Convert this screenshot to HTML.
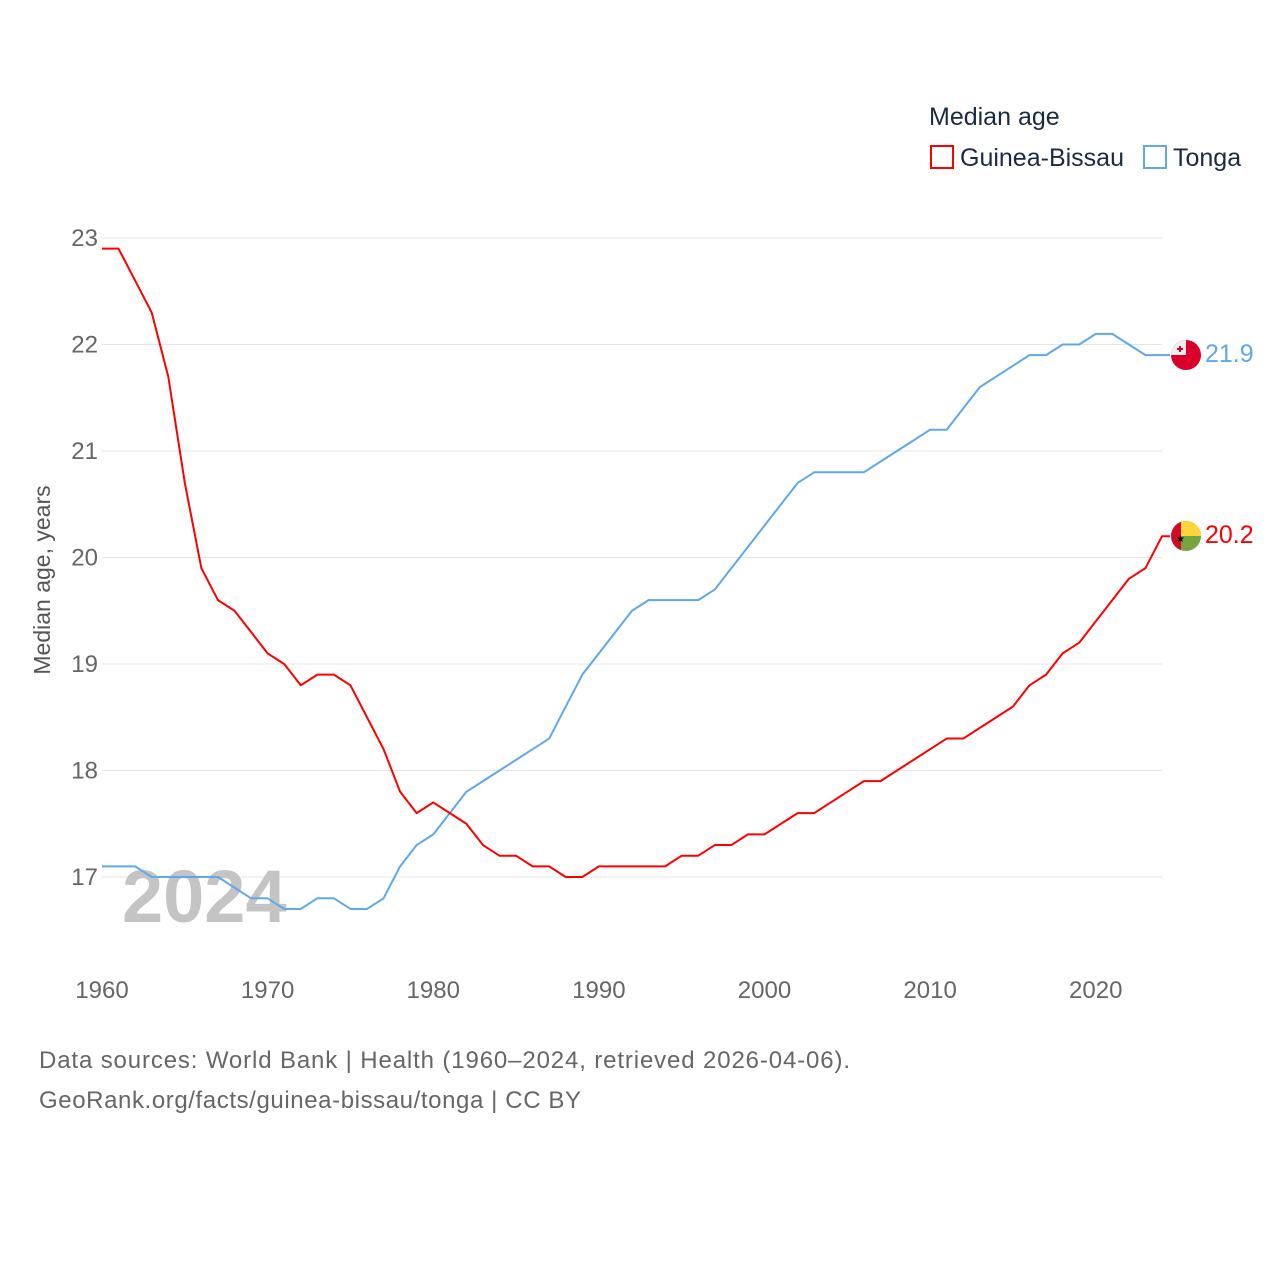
<!DOCTYPE html>
<html><head><meta charset="utf-8"><style>
body{margin:0;background:#fff;font-family:"Liberation Sans",sans-serif;}
svg text{font-family:"Liberation Sans",sans-serif;}
</style></head><body>
<svg id="chart" width="1280" height="1280" xmlns="http://www.w3.org/2000/svg">
<text x="929" y="125" font-size="25" fill="#1a2a44">Median age</text>
<rect x="931" y="146" width="22" height="22" fill="none" stroke="#f00" stroke-width="2"/>
<text x="960" y="166" font-size="25" fill="#1a2a44">Guinea-Bissau</text>
<rect x="1144" y="146" width="22" height="22" fill="none" stroke="#5fa8ea" stroke-width="2"/>
<text x="1173" y="166" font-size="25" fill="#1a2a44">Tonga</text>
<g id="grid"></g>
<text x="122" y="922" font-size="74" font-weight="bold" fill="#c4c4c4">2024</text>
<g id="series"></g>
<text transform="translate(50,580) rotate(-90)" text-anchor="middle" font-size="23" fill="#555">Median age, years</text>
<text x="39" y="1068" font-size="24" fill="#666" textLength="811">Data sources: World Bank | Health (1960–2024, retrieved 2026-04-06).</text>
<text x="39" y="1108" font-size="24" fill="#666" textLength="542">GeoRank.org/facts/guinea-bissau/tonga | CC BY</text>
<defs>
<clipPath id="c1"><circle cx="1186" cy="355" r="15"/></clipPath>
<clipPath id="c2"><circle cx="1186" cy="536" r="15"/></clipPath>
</defs>
<g clip-path="url(#c1)">
<rect x="1171" y="340" width="30" height="30" fill="#d9002a"/>
<rect x="1171" y="340" width="15" height="15" fill="#eee"/>
<rect x="1179" y="346" width="2" height="6" fill="#d9002a"/><rect x="1177" y="348" width="6" height="2" fill="#d9002a"/>
</g>
<g clip-path="url(#c2)">
<rect x="1171" y="521" width="30" height="30" fill="#79a340"/>
<rect x="1181" y="521" width="20" height="15" fill="#fcd43c"/>
<rect x="1171" y="521" width="10" height="30" fill="#d10a2a"/>
<text x="1176" y="542" font-size="10" fill="#000">★</text>
</g>
<text x="1205" y="362" font-size="25" fill="#5fa8ea">21.9</text>
<text x="1205" y="543" font-size="25" fill="#f00">20.2</text>
</svg>
<script>
const years=[];for(let y=1960;y<=2024;y++)years.push(y);
const yTicks=[17,18,19,20,21,22,23];
const xTicks=[1960,1970,1980,1990,2000,2010,2020];
const guineaBissau=[22.9,22.9,22.6,22.3,21.7,20.7,19.9,19.6,19.5,19.3,19.1,19.0,18.8,18.9,18.9,18.8,18.5,18.2,17.8,17.6,17.7,17.6,17.5,17.3,17.2,17.2,17.1,17.1,17.0,17.0,17.1,17.1,17.1,17.1,17.1,17.2,17.2,17.3,17.3,17.4,17.4,17.5,17.6,17.6,17.7,17.8,17.9,17.9,18.0,18.1,18.2,18.3,18.3,18.4,18.5,18.6,18.8,18.9,19.1,19.2,19.4,19.6,19.8,19.9,20.2];
const tonga=[17.1,17.1,17.1,17.0,17.0,17.0,17.0,17.0,16.9,16.8,16.8,16.7,16.7,16.8,16.8,16.7,16.7,16.8,17.1,17.3,17.4,17.6,17.8,17.9,18.0,18.1,18.2,18.3,18.6,18.9,19.1,19.3,19.5,19.6,19.6,19.6,19.6,19.7,19.9,20.1,20.3,20.5,20.7,20.8,20.8,20.8,20.8,20.9,21.0,21.1,21.2,21.2,21.4,21.6,21.7,21.8,21.9,21.9,22.0,22.0,22.1,22.1,22.0,21.9,21.9];
const X=v=>102+(v-1960)*(1162-102)/64;
const Y=v=>877-(v-17)*(877-238)/6;
const NS="http://www.w3.org/2000/svg";
const grid=document.getElementById('grid');
yTicks.forEach(t=>{
 const l=document.createElementNS(NS,'line');
 l.setAttribute('x1',102);l.setAttribute('x2',1162);l.setAttribute('y1',Y(t));l.setAttribute('y2',Y(t));
 l.setAttribute('stroke','#e6e6e6');l.setAttribute('stroke-width','1');
 
 
 grid.appendChild(l);
 const tx=document.createElementNS(NS,'text');
 tx.setAttribute('x',98);tx.setAttribute('y',Y(t)+8);tx.setAttribute('text-anchor','end');
 tx.setAttribute('font-size','24');tx.setAttribute('fill','#666');tx.textContent=t;
 
 
 grid.appendChild(tx);
});
xTicks.forEach(t=>{
 const tx=document.createElementNS(NS,'text');
 tx.setAttribute('x',X(t));tx.setAttribute('y',998);tx.setAttribute('text-anchor','middle');
 tx.setAttribute('font-size','24');tx.setAttribute('fill','#666');tx.textContent=t;
 
 
 grid.appendChild(tx);
});
const ser=document.getElementById('series');
function line(data,color,name){
 const p=document.createElementNS(NS,'polyline');
 p.setAttribute('points',data.map((v,i)=>X(years[i])+','+Y(v)).join(' ')+' '+(X(2024)+8)+','+Y(data[data.length-1]));
 p.setAttribute('fill','none');p.setAttribute('stroke',color);p.setAttribute('stroke-width','2');
 p.setAttribute('stroke-linejoin','round');
 
 
 ser.appendChild(p);
}
line(tonga,'#5fa8ea','tonga-line');
line(guineaBissau,'#f00','guinea-bissau-line');
</script>
</body></html>
